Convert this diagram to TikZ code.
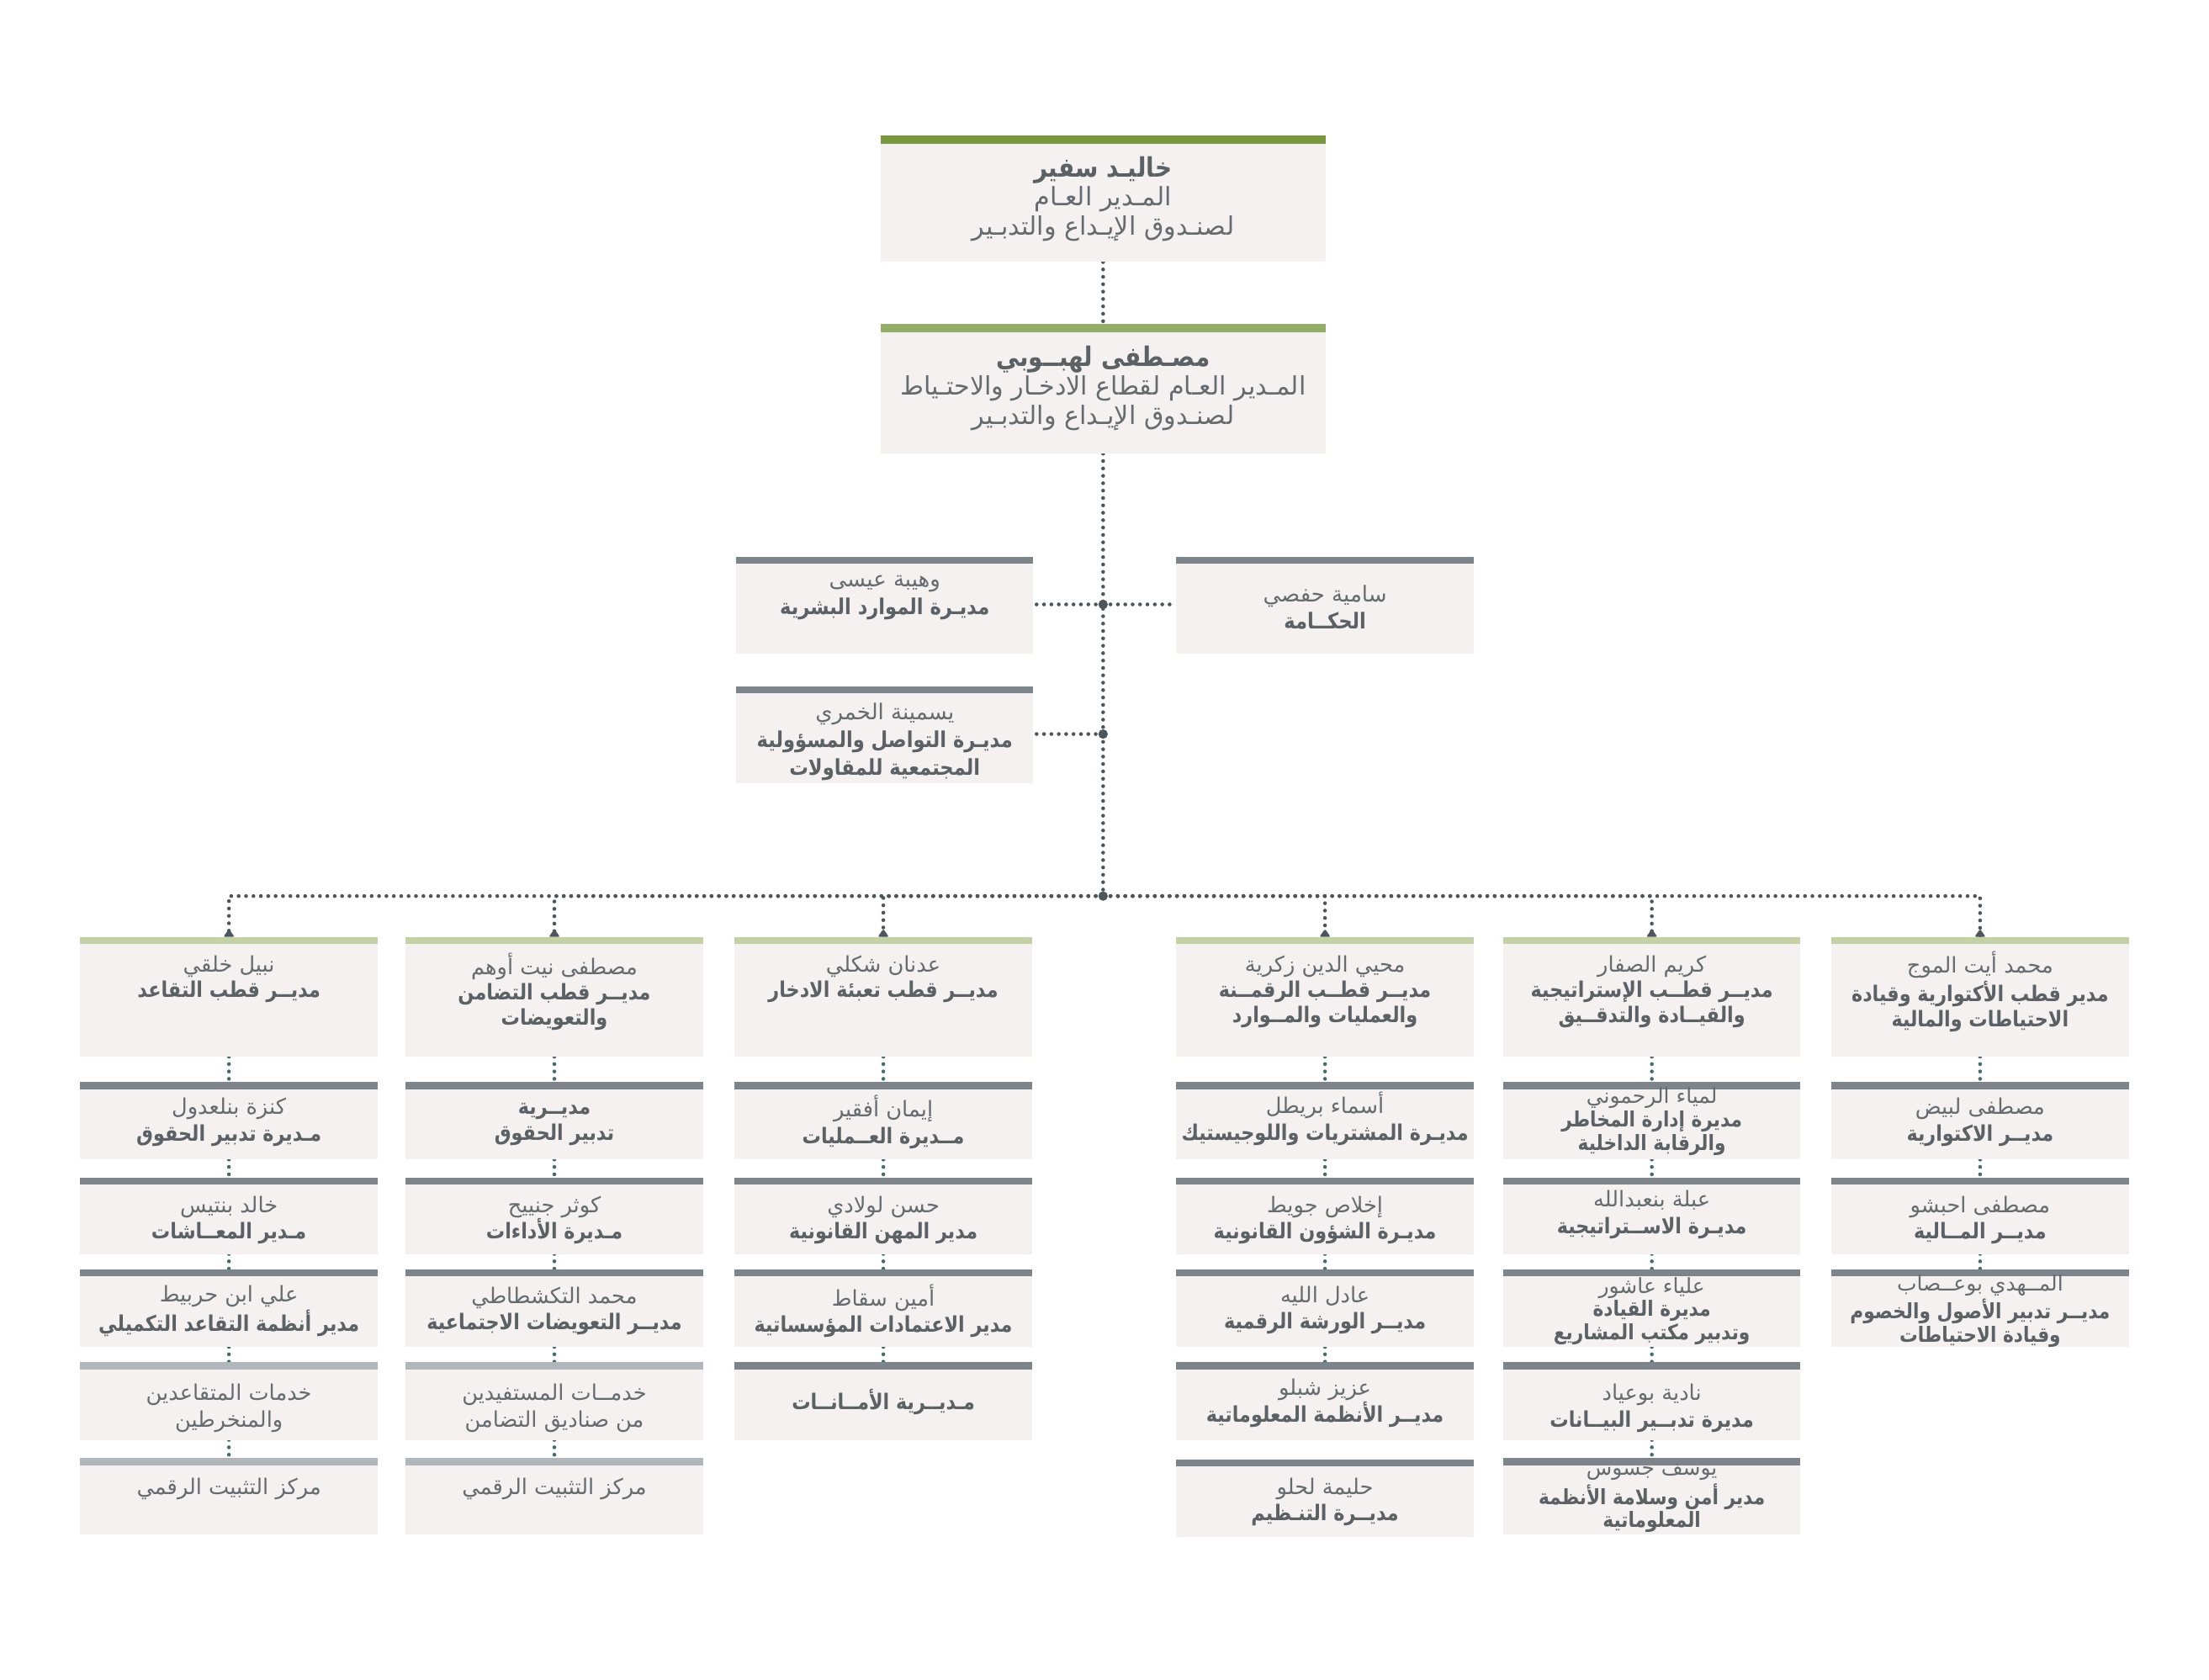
\documentclass[tikz,border=0pt]{standalone}
\usepackage{fontspec}
\newfontfamily\arabicfont[Script=Arabic]{DejaVu Sans}
\newfontfamily\arabicbold[Script=Arabic,FakeStretch=0.87]{DejaVu Sans Bold}
\TeXXeTstate=1
\usetikzlibrary{backgrounds}
\newcommand\pxu{0.01675cm}
\newcommand\AR[1]{{\beginR#1\endR}}
\newcommand\ARB[1]{{\arabicbold\color{txtb}\beginR#1\endR}}
\definecolor{boxfill}{HTML}{F4F1F0}
\definecolor{gA}{HTML}{78993F}
\definecolor{gB}{HTML}{93AE69}
\definecolor{gC}{HTML}{C4D1A7}
\definecolor{dg}{HTML}{7D858B}
\definecolor{lg}{HTML}{B1B6BA}
\definecolor{txtc}{HTML}{666B70}
\definecolor{txtb}{HTML}{5C6166}
\definecolor{lnc}{HTML}{4E565D}
\definecolor{tlc}{HTML}{466C6D}
\def\barh{5}
% name, xc, width, bartop, bottom, barcolor, text y, text style, text
\newcommand\obox[9]{%
  \node[barn, fill=#6, minimum width=#3*\pxu, minimum height=\barh*\pxu] (#1-bar) at (#2,{#4+\barh/2}) {};
  \node[bodyn, minimum width=#3*\pxu, minimum height={(#5-#4-\barh)*\pxu}] (#1) at (#2,{(#4+\barh+#5)/2}) {};
  \node[txtn, #8] (#1-txt) at (#2,#7) {#9};
}
\begin{document}
\begin{tikzpicture}[x=\pxu, y=-\pxu,
  barn/.style={rectangle, inner sep=0pt, outer sep=0pt, draw=none},
  bodyn/.style={rectangle, fill=boxfill, inner sep=0pt, outer sep=0pt, draw=none},
  txtn/.style={inner sep=0pt, align=center, text=txtc},
  ttop/.style={font=\arabicfont\fontsize{8.6}{9.8}\selectfont},
  tmid/.style={font=\arabicfont\fontsize{7.4}{9.3}\selectfont},
  thead/.style={font=\arabicfont\fontsize{7.3}{8.6}\selectfont},
  ttwo/.style={font=\arabicfont\fontsize{7.3}{9.0}\selectfont},
  tthree/.style={font=\arabicfont\fontsize{7.1}{7.9}\selectfont},
  conn/.style={draw=lnc, line width=1.3pt, line cap=round, dash pattern=on 0pt off 2.5pt},
  tconn/.style={draw=tlc, line width=1.3pt, line cap=round, dash pattern=on 0pt off 2.5pt},
  jdot/.style={circle, fill=lnc, inner sep=0pt, minimum size=3.2pt}]
\useasboundingbox (0,0) rectangle (1568,1192);

% top
\def\barh{6}
\obox{m1}{783}{316}{96}{186}{gA}{141}{ttop}{{\fontsize{9.1}{9.8}\selectfont\ARB{خاليـد سفير}}\\\AR{المـدير العـام}\\\AR{لصنـدوق الإيـداع والتدبـير}}
\obox{m2}{783}{316}{230}{322}{gB}{275.5}{ttop}{{\fontsize{9.1}{9.8}\selectfont\ARB{مصـطفى لهبــوبي}}\\\AR{المـدير العـام لقطاع الادخـار والاحتـياط}\\\AR{لصنـدوق الإيـداع والتدبـير}}
\def\barh{5}

% staff
\obox{hr}{628}{211}{395}{464}{dg}{424}{tmid}{\AR{وهيبة عيسى}\\\ARB{مديـرة الموارد البشرية}}
\obox{gov}{940.5}{211}{395}{464}{dg}{431}{tmid}{\AR{سامية حفصي}\\\ARB{الحكــامة}}
\obox{com}{628}{211}{487}{556}{dg}{526.5}{tmid}{\AR{يسمينة الخمري}\\\ARB{مديـرة التواصل والمسؤولية}\\\ARB{المجتمعية للمقاولات}}

\node[jdot] (j1) at (783,429) {};
\node[jdot] (j2) at (783,521) {};
\node[jdot] (j3) at (783,636) {};

% column 1
\obox{c1-h}{162.5}{211}{665}{750}{gC}{695}{thead}{\AR{نبيل خلقي}\\\ARB{مديــر قطب التقاعد}}
\obox{c1-2}{162.5}{211}{768}{823}{dg}{796.5}{ttwo}{\AR{كنزة بنلعدول}\\\ARB{مـديرة تدبير الحقوق}}
\obox{c1-3}{162.5}{211}{836}{890}{dg}{866}{ttwo}{\AR{خالد بنتيس}\\\ARB{مـدير المعــاشات}}
\obox{c1-4}{162.5}{211}{901}{956}{dg}{930.5}{ttwo}{\AR{علي ابن حربيط}\\\ARB{مدير أنظمة التقاعد التكميلي}}
\obox{c1-5}{162.5}{211}{967}{1022}{lg}{999.5}{ttwo}{\AR{خدمات المتقاعدين}\\\AR{والمنخرطين}}
\obox{c1-6}{162.5}{211}{1035}{1089}{lg}{1057}{ttwo}{\AR{مركز التثبيت الرقمي}}

% column 2
\obox{c2-h}{393.5}{211}{665}{750}{gC}{704}{thead}{\AR{مصطفى نيت أوهم}\\\ARB{مديــر قطب التضامن}\\\ARB{والتعويضات}}
\obox{c2-2}{393.5}{211}{768}{823}{dg}{798}{ttwo}{\ARB{مديــرية}\\\ARB{تدبير الحقوق}}
\obox{c2-3}{393.5}{211}{836}{890}{dg}{866}{ttwo}{\AR{كوثر جنييح}\\\ARB{مـديرة الأداءات}}
\obox{c2-4}{393.5}{211}{901}{956}{dg}{930.5}{ttwo}{\AR{محمد التكشطاطي}\\\ARB{مديــر التعويضات الاجتماعية}}
\obox{c2-5}{393.5}{211}{967}{1022}{lg}{999.5}{ttwo}{\AR{خدمــات المستفيدين}\\\AR{من صناديق التضامن}}
\obox{c2-6}{393.5}{211}{1035}{1089}{lg}{1057}{ttwo}{\AR{مركز التثبيت الرقمي}}

% column 3
\obox{c3-h}{627}{211}{665}{750}{gC}{695}{thead}{\AR{عدنان شكلي}\\\ARB{مديــر قطب تعبئة الادخار}}
\obox{c3-2}{627}{211}{768}{823}{dg}{796.5}{ttwo}{\AR{إيمان أفقير}\\\ARB{مــديرة العــمليات}}
\obox{c3-3}{627}{211}{836}{890}{dg}{866}{ttwo}{\AR{حسن لولادي}\\\ARB{مدير المهن القانونية}}
\obox{c3-4}{627}{211}{901}{956}{dg}{930.5}{ttwo}{\AR{أمين سقاط}\\\ARB{مدير الاعتمادات المؤسساتية}}
\obox{c3-5}{627}{211}{967}{1022}{dg}{995}{ttwo}{\ARB{مـديــرية الأمــانــات}}

% column 4
\obox{c4-h}{940.5}{211}{665}{750}{gC}{704}{thead}{\AR{محيي الدين زكرية}\\\ARB{مديــر قطــب الرقمــنة}\\\ARB{والعمليات والمــوارد}}
\obox{c4-2}{940.5}{211}{768}{823}{dg}{794}{ttwo}{\AR{أسماء بريطل}\\\ARB{مديـرة المشتريات واللوجيستيك}}
\obox{c4-3}{940.5}{211}{836}{890}{dg}{866}{ttwo}{\AR{إخلاص جويط}\\\ARB{مديـرة الشؤون القانونية}}
\obox{c4-4}{940.5}{211}{901}{956}{dg}{930}{ttwo}{\AR{عادل الليه}\\\ARB{مديــر الورشة الرقمية}}
\obox{c4-5}{940.5}{211}{967}{1022}{dg}{996}{ttwo}{\AR{عزيز شبلو}\\\ARB{مديــر الأنظمة المعلوماتية}}
\obox{c4-6}{940.5}{211}{1036}{1091}{dg}{1066}{ttwo}{\AR{حليمة لحلو}\\\ARB{مديــرة التنـظيم}}

% column 5
\obox{c5-h}{1172.5}{211}{665}{750}{gC}{704}{thead}{\AR{كريم الصفار}\\\ARB{مديــر قطــب الإستراتيجية}\\\ARB{والقيــادة والتدقــيق}}
\obox{c5-2}{1172.5}{211}{768}{823}{dg}{796}{tthree}{\AR{لمياء الرحموني}\\\ARB{مديرة إدارة المخاطر}\\\ARB{والرقابة الداخلية}}
\obox{c5-3}{1172.5}{211}{836}{890}{dg}{862}{ttwo}{\AR{عبلة بنعبدالله}\\\ARB{مديـرة الاســتراتيجية}}
\obox{c5-4}{1172.5}{211}{901}{956}{dg}{930.5}{tthree}{\AR{علياء عاشور}\\\ARB{مديرة القيادة}\\\ARB{وتدبير مكتب المشاريع}}
\obox{c5-5}{1172.5}{211}{967}{1022}{dg}{999.5}{ttwo}{\AR{نادية بوعياد}\\\ARB{مديرة تدبــير البيــانات}}
\obox{c5-6}{1172.5}{211}{1035}{1089}{dg}{1063.5}{tthree}{\AR{يوسف جسوس}\\\ARB{مدير أمن وسلامة الأنظمة}\\\ARB{المعلوماتية}}

% column 6
\obox{c6-h}{1405.5}{211}{665}{750}{gC}{704}{thead}{\AR{محمد أيت الموج}\\\ARB{مدير قطب الأكتوارية وقيادة}\\\ARB{الاحتياطات والمالية}}
\obox{c6-2}{1405.5}{211}{768}{823}{dg}{796.5}{ttwo}{\AR{مصطفى لبيض}\\\ARB{مديــر الاكتوارية}}
\obox{c6-3}{1405.5}{211}{836}{890}{dg}{866}{ttwo}{\AR{مصطفى احبشو}\\\ARB{مديــر المــالية}}
\obox{c6-4}{1405.5}{211}{901}{956}{dg}{930.5}{tthree}{\AR{المــهدي بوعــصاب}\\\ARB{مديــر تدبير الأصول والخصوم}\\\ARB{وقيادة الاحتياطات}}

\begin{scope}[on background layer]
  \fill[white] (0,0) rectangle (1568,1192);
  \draw[conn] (m1.south) -- (m2-bar.north);
  \draw[conn] (m2.south) -- (j3.center);
  \draw[conn] (j1.center) -- (j1 -| hr.east);
  \draw[conn] (j1.center) -- (j1 -| gov.west);
  \draw[conn] (j2.center) -- (j2 -| com.east);
  \foreach \c in {1,...,6} {
    \draw[conn] (j3.center) -| (c\c-h-bar.north);
    \fill[lnc, rounded corners=0.6pt] ([xshift=-1.9pt]c\c-h-bar.north) -- ([yshift=2.7pt]c\c-h-bar.north) -- ([xshift=1.9pt]c\c-h-bar.north) -- cycle;
  }
  \foreach \c/\n in {1/6,2/6,3/5,4/5,5/6,6/4} {
    \draw[tconn] (c\c-h.south) -- (c\c-2-bar.north);
    \foreach \k [evaluate=\k as \p using int(\k-1)] in {3,...,\n} {
      \draw[tconn] (c\c-\p.south) -- (c\c-\k-bar.north);
    }
  }
\end{scope}
\end{tikzpicture}
\end{document}
